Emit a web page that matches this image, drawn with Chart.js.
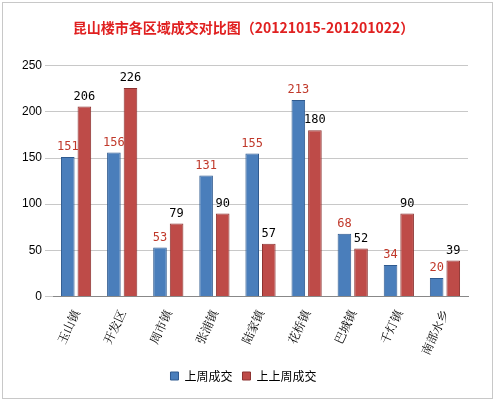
<!DOCTYPE html>
<html>
<head>
<meta charset="utf-8">
<script src="https://cdn.jsdelivr.net/npm/chart.js@4/dist/chart.umd.min.js"></script>
<style>
  html, body { margin: 0; padding: 0; background: #fff; }
  #wrap { width: 491px; height: 397px; margin: 2px; border: 1px solid #c8c8c8; box-sizing: border-box; }
</style>
</head>
<body>
<div id="wrap"><canvas id="chart"></canvas></div>
<script>
const categories = ["玉山镇", "开发区", "周市镇", "张浦镇", "陆家镇", "花桥镇", "巴城镇", "千灯镇", "南部水乡"];
const lastWeek = [151, 156, 53, 131, 155, 213, 68, 34, 20];
const weekBefore = [206, 226, 79, 90, 57, 180, 52, 90, 39];

const labelPlugin = {
  id: "barLabels",
  afterDatasetsDraw(chart) {
    const ctx = chart.ctx;
    ctx.save();
    ctx.font = "12px 'DejaVu Sans Mono', monospace";
    ctx.textAlign = "center";
    ctx.textBaseline = "bottom";
    chart.data.datasets.forEach((ds, i) => {
      ctx.fillStyle = i === 0 ? "#c0392b" : "#000";
      chart.getDatasetMeta(i).data.forEach((bar, j) => {
        ctx.fillText(ds.data[j], bar.x, bar.y - 4);
      });
    });
    ctx.restore();
  },
};

new Chart(document.getElementById("chart"), {
  type: "bar",
  data: {
    labels: categories,
    datasets: [
      { label: "上周成交", data: lastWeek, backgroundColor: "#4a7ebb", borderColor: "#2f5a8f", borderWidth: 1 },
      { label: "上上周成交", data: weekBefore, backgroundColor: "#be4b48", borderColor: "#8c3230", borderWidth: 1 },
    ],
  },
  options: {
    responsive: true,
    maintainAspectRatio: false,
    animation: false,
    layout: { padding: { left: 16, right: 24, top: 4, bottom: 6 } },
    datasets: { bar: { categoryPercentage: 0.72, barPercentage: 0.82 } },
    plugins: {
      title: {
        display: true,
        text: "昆山楼市各区域成交对比图（20121015-201201022）",
        color: "#e02020",
        font: { size: 14, weight: "bold", family: "'Noto Sans CJK SC', sans-serif" },
        padding: { top: 12, bottom: 30 },
      },
      legend: {
        position: "bottom",
        labels: { boxWidth: 8, boxHeight: 8, color: "#000", font: { size: 12, family: "'Noto Sans CJK SC', sans-serif" } },
      },
      tooltip: { enabled: false },
    },
    scales: {
      x: {
        grid: { display: false },
        border: { color: "#888" },
        ticks: {
          color: "#000",
          maxRotation: 65,
          minRotation: 65,
          font: { size: 12, family: "'Noto Serif CJK SC', 'Noto Sans CJK SC', serif" },
        },
      },
      y: {
        min: 0,
        max: 250,
        ticks: { stepSize: 50, color: "#000", font: { size: 12 } },
        grid: { color: "#c8c8c8" },
        border: { display: false },
      },
    },
  },
  plugins: [labelPlugin],
});
</script>
</body>
</html>
